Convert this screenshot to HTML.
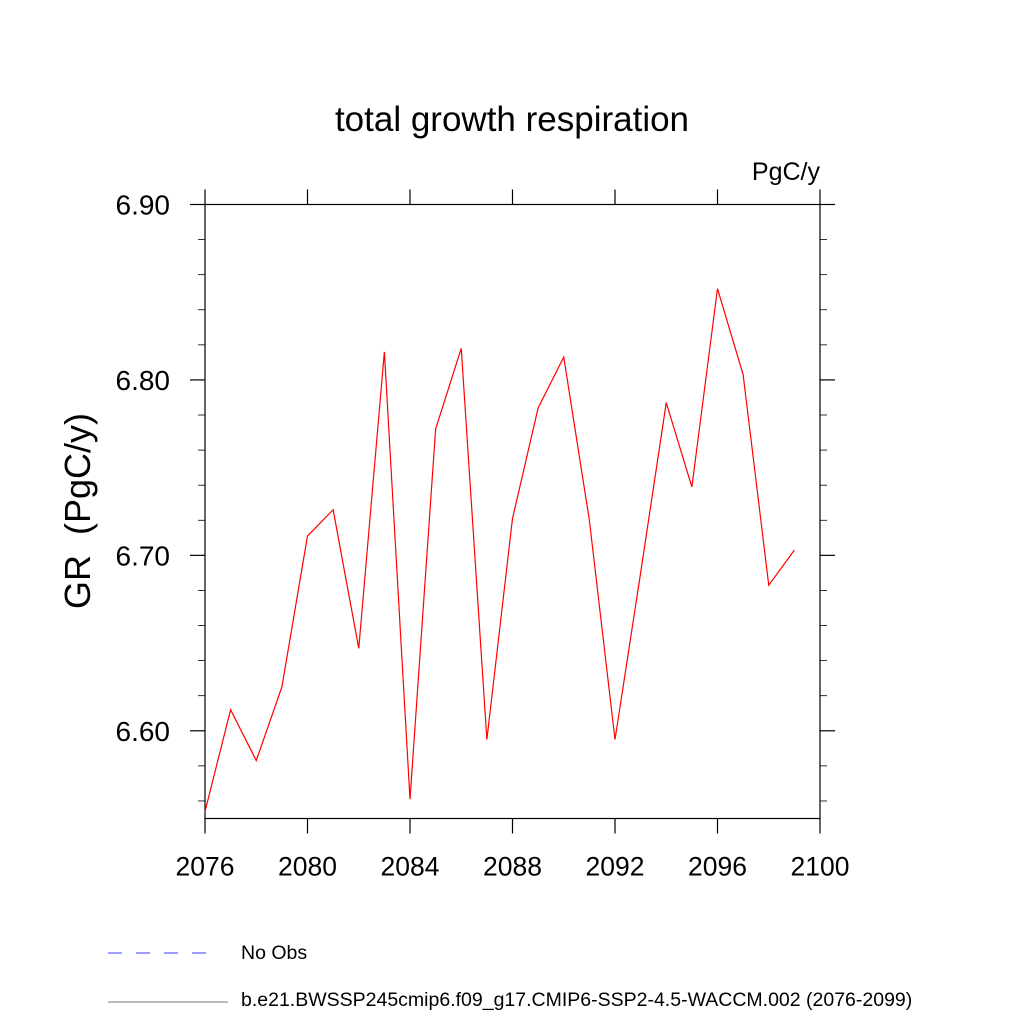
<!DOCTYPE html>
<html><head><meta charset="utf-8"><style>body{margin:0;background:#fff}svg text{font-family:"Liberation Sans",sans-serif}</style></head>
<body>
<svg width="1024" height="1024" xmlns="http://www.w3.org/2000/svg">
<text x="512" y="131" font-size="35" text-anchor="middle">total growth respiration</text>
<text x="820" y="180" font-size="25" text-anchor="end">PgC/y</text>
<text transform="translate(90,511) rotate(-90)" font-size="36" text-anchor="middle" style="white-space:pre">GR  (PgC/y)</text>
<g id="axes"></g>
<polyline id="series" fill="none" stroke="#ff0000" stroke-width="1.2"/>
<g>
<line x1="108" y1="953" x2="218" y2="953" stroke="#6060ff" stroke-width="1.2" stroke-dasharray="14,14"/>
<text x="241" y="959" font-size="19.5">No Obs</text>
<line x1="108" y1="1002" x2="228" y2="1002" stroke="#777" stroke-width="1"/>
<text x="241" y="1006" font-size="19.5">b.e21.BWSSP245cmip6.f09_g17.CMIP6-SSP2-4.5-WACCM.002 (2076-2099)</text>
</g>
</svg>
<script>
const years=[2076,2077,2078,2079,2080,2081,2082,2083,2084,2085,2086,2087,2088,2089,2090,2091,2092,2093,2094,2095,2096,2097,2098,2099];
const values=[6.554,6.612,6.583,6.625,6.711,6.726,6.647,6.816,6.561,6.772,6.818,6.595,6.721,6.784,6.813,6.720,6.595,6.690,6.787,6.739,6.852,6.803,6.683,6.703];
const xTicks=[2076,2080,2084,2088,2092,2096,2100];
const yTicks=[6.60,6.70,6.80,6.90];
const yTickLabels=["6.60","6.70","6.80","6.90"];
const X0=205,X1=820,Y0=818.5,Y1=204.5,xmin=2076,xmax=2100,ymin=6.55,ymax=6.90;
const sx=v=>X0+(v-xmin)/(xmax-xmin)*(X1-X0);
const sy=v=>Y0-(v-ymin)/(ymax-ymin)*(Y0-Y1);
const NS="http://www.w3.org/2000/svg",g=document.getElementById('axes');
function ln(a,b,c,d,n,w){const l=document.createElementNS(NS,'line');l.setAttribute('x1',a);l.setAttribute('y1',b);l.setAttribute('x2',c);l.setAttribute('y2',d);l.setAttribute('stroke','#000');l.setAttribute('stroke-width',w||1.2);


g.appendChild(l);}
function tx(x,y,s,anc,n,fs){const t=document.createElementNS(NS,'text');t.setAttribute('x',x);t.setAttribute('y',y);t.setAttribute('font-size',fs);t.setAttribute('text-anchor',anc);t.textContent=s;


g.appendChild(t);}
const r=document.createElementNS(NS,'rect');r.setAttribute('x',X0);r.setAttribute('y',Y1);r.setAttribute('width',X1-X0);r.setAttribute('height',Y0-Y1);r.setAttribute('fill','none');r.setAttribute('stroke','#000');r.setAttribute('stroke-width','1.2');


g.appendChild(r);
xTicks.forEach(v=>{const x=sx(v);ln(x,Y0,x,Y0+15,'x-tick');ln(x,Y1,x,Y1-15,'x-tick-top');tx(x,Y0+57,String(v),'middle','x-tick-label','26.5');});
yTicks.forEach((v,i)=>{const y=sy(v);ln(X0-15,y,X0,y,'y-tick');ln(X1,y,X1+15,y,'y-tick-right');tx(X0-35,y+10,yTickLabels[i],'end','y-tick-label','28');});
for(let k=0;k<18;k++){const v=6.56+k*0.02;if(Math.abs(v*10-Math.round(v*10))>0.01){const y=sy(v);ln(X0-7,y,X0,y,'y-minor-tick',0.8);ln(X1,y,X1+7,y,'y-minor-tick-right',0.8);}}
document.getElementById('series').setAttribute('points',years.map((y,i)=>sx(y)+','+sy(values[i])).join(' '));
</script>
</body></html>
